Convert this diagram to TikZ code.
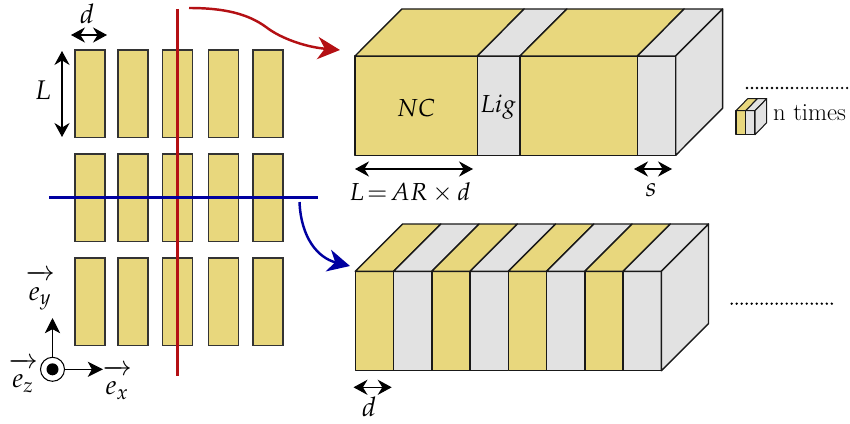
\documentclass[tikz,border=0pt]{standalone}
\usepackage{mathtools}
\usepackage{mathpazo}
\renewcommand{\rmdefault}{lmr}
\usepackage{tikz}
\usetikzlibrary{arrows.meta}

\definecolor{ncyellow}{RGB}{232,215,125}
\definecolor{liggray}{RGB}{226,226,226}
\definecolor{cutred}{RGB}{180,16,20}
\definecolor{cutblue}{RGB}{0,0,160}

\newcommand{\basevec}[1]{\overrightarrow{\rule{0pt}{17pt}#1}}

\tikzset{
  rod/.style={draw=black!80,fill=ncyellow,line width=1.1pt,minimum width=0.9cm,minimum height=2.63cm,inner sep=0pt},
  slab/.style={draw=black!90,line width=1.2pt,line join=round},
  dim/.style={{Stealth[length=12pt,width=13pt,inset=4pt]}-{Stealth[length=12pt,width=13pt,inset=4pt]},line width=0.9pt},
  axis/.style={-{Stealth[length=13pt,width=13pt,inset=3.5pt]},line width=0.9pt},
  cut/.style={line width=2.1pt},
  bigtip/.style={-{Stealth[length=19pt,width=19pt,inset=6pt]}},
  lbl/.style={inner sep=0pt,font=\fontsize{21}{25}\selectfont},
  biglbl/.style={inner sep=0pt,font=\fontsize{23}{27}\selectfont},
  dots/.style={line width=2.2pt,line cap=round,dash pattern=on 0pt off 4.27pt}
}

\begin{document}
\begin{tikzpicture}[x=0.03cm,y=-0.03cm]
\useasboundingbox (0,0) rectangle (850,423);

\foreach \col/\xc in {1/90,2/133,3/177.5,4/223.5,5/268}
  \foreach \row/\yc in {1/93.7,2/197.8,3/301.7}
    \node [rod] (r\row\col) at (\xc,\yc) {};

\coordinate (redtop) at (177.5,9);
\coordinate (redbot) at (177.5,376);
\coordinate (blueleft) at (49,197.5);
\coordinate (blueright) at (318,197.5);
\draw [cut,cutred] (redtop) -- (redbot);
\draw [cut,cutblue] (blueleft) -- (blueright);

\coordinate (redfrom) at (189,8);
\coordinate (redto) at (340,50);
\coordinate (bluefrom) at (299.5,202);
\coordinate (blueto) at (350,266);
\draw [cut,cutred,bigtip] (redfrom) .. controls (225,8) and (248,14) .. (266,27) .. controls (280,38) and (305,47) .. (redto);
\draw [cut,cutblue,bigtip] (bluefrom) .. controls (301,238) and (318,258) .. (blueto);

\coordinate (da) at (71,35);
\coordinate (db) at (107,35);
\coordinate (la) at (62,51);
\coordinate (lb) at (62,137);
\draw [dim] (da) -- (db);
\draw [dim] (la) -- (lb);
\node [biglbl] (dlab) at (87,14) {$d$};
\node [biglbl] (llab) at (43,90) {$L$};

\node [circle,draw,line width=0.9pt,minimum size=0.72cm,inner sep=0pt] (ez) at (52.5,369.3) {};
\node [circle,fill=black,minimum size=0.36cm,inner sep=0pt] (ezdot) at (ez) {};
\coordinate (ey) at (52.5,318);
\coordinate (ex) at (103,369.3);
\draw [axis] (ez.north) -- (ey);
\draw [axis] (ez.east) -- (ex);
\node [biglbl] (eylab) at (40,290) {$\basevec{e_y}$};
\node [biglbl] (ezlab) at (23,375) {$\basevec{e_z}$};
\node [biglbl] (exlab) at (117,382) {$\basevec{e_x}$};

% top block
\foreach \xa/\xb/\fc in {355/477.3/ncyellow,477.3/520/liggray,520/637.3/ncyellow,637.3/675.7/liggray}{
  \draw [slab,fill=\fc] (\xa,56) rectangle (\xb,155.3);
  \draw [slab,fill=\fc] (\xa,56) -- (\xa+46.9,9) -- (\xb+46.9,9) -- (\xb,56) -- cycle;
}
\draw [slab,fill=liggray] (675.7,56) -- (722.6,9) -- (722.6,108.3) -- (675.7,155.3) -- cycle;
\coordinate (arla) at (355,169);
\coordinate (arlb) at (473,169);
\coordinate (sa) at (634,169);
\coordinate (sb) at (672,169);
\draw [dim] (arla) -- (arlb);
\draw [dim] (sa) -- (sb);
\node [lbl] (nc) at (416,108) {$NC$};
\node [lbl] (lig) at (498,107) {$Lig$};
\node [lbl] (lar) at (410,193) {$L\!=\!AR\times d$};
\node [biglbl] (slab) at (651,190) {$s$};
\coordinate (dota) at (747,88);
\coordinate (dotb) at (850,88);
\draw [dots] (dota) -- (dotb);

% n times
\foreach \xa/\xb/\fc in {736/745.7/ncyellow,745.7/755/liggray}{
  \draw [slab,line width=0.9pt,fill=\fc] (\xa,110.7) rectangle (\xb,134.7);
  \draw [slab,line width=0.9pt,fill=\fc] (\xa,110.7) -- (\xa+11.7,98.7) -- (\xb+11.7,98.7) -- (\xb,110.7) -- cycle;
}
\draw [slab,line width=0.9pt,fill=liggray] (755,110.7) -- (766.7,98.7) -- (766.7,122.7) -- (755,134.7) -- cycle;
\node [inner sep=0pt,anchor=west,font=\fontsize{21}{25}\selectfont] (ntimes) at (773,113) {n times};

% bottom block
\foreach \i/\fc in {0/ncyellow,1/liggray,2/ncyellow,3/liggray,4/ncyellow,5/liggray,6/ncyellow,7/liggray}{
  \pgfmathsetmacro{\xa}{355.3+38.25*\i}
  \pgfmathsetmacro{\xb}{355.3+38.25*(\i+1)}
  \draw [slab,fill=\fc] (\xa,271.3) rectangle (\xb,370.7);
  \draw [slab,fill=\fc] (\xa,271.3) -- (\xa+47.2,224) -- (\xb+47.2,224) -- (\xb,271.3) -- cycle;
}
\draw [slab,fill=liggray] (661.3,271.3) -- (708.5,224) -- (708.5,323.5) -- (661.3,370.7) -- cycle;
\coordinate (dda) at (353.5,387.3);
\coordinate (ddb) at (391.7,387.3);
\draw [dim] (dda) -- (ddb);
\node [biglbl] (ddlab) at (369,407) {$d$};
\coordinate (dotc) at (731.7,303.7);
\coordinate (dotd) at (836.7,303.7);
\draw [dots] (dotc) -- (dotd);
\end{tikzpicture}
\end{document}
